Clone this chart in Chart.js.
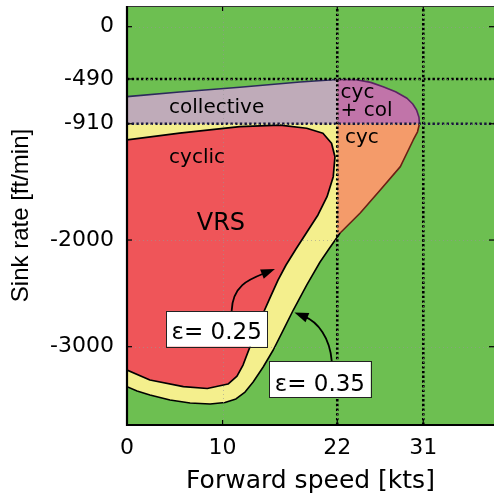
<!DOCTYPE html>
<html>
<head>
<meta charset="utf-8">
<title>VRS boundary</title>
<script src="https://cdn.jsdelivr.net/npm/chart.js@4.4.1/dist/chart.umd.min.js"></script>
<style>
  html, body { margin: 0; padding: 0; background: #fff; overflow: hidden; }
  canvas { display: block; }
</style>
</head>
<body>
<canvas id="vrs" width="494" height="498"></canvas>
<script>
// ε = 0.35 envelope: forward speed [kts] and sink rate [ft/min], clockwise from the top-left
const outerSpeed = [0, 5.5, 11.8, 18.1, 22, 24, 25.5, 26.8, 28.1, 29.3, 29.9, 30.3, 30.55, 30.6, 30.4, 29.95,
  28.6, 26.5, 24.4, 22.3, 21.2, 20.2, 18.8, 17.4, 16.35, 15.3, 14.25, 13.2, 12.35, 11.4, 10.25, 8.7, 6.6, 4.5, 2.4, 1.05, 0];
const outerSink = [-656, -612, -568, -518, -495, -497, -522, -562, -610, -671, -725, -781, -850, -910, -985, -1062,
  -1312, -1531, -1747, -1934, -2075, -2206, -2422, -2656, -2844, -3031, -3190, -3331, -3425, -3490, -3523, -3537, -3528, -3500, -3453, -3415, -3375];

// ε = 0.25 VRS core
const innerSpeed = [0, 5.5, 11.8, 16.0, 18.8, 20.5, 21.4, 21.76, 21.58, 20.93, 19.98, 18.83, 17.68, 16.64, 15.8,
  14.96, 14.12, 13.39, 12.66, 12.14, 11.51, 10.57, 8.4, 5.9, 2.4, 0];
const innerSink = [-1062, -997, -936, -922, -952, -999, -1093, -1219, -1406, -1594, -1765, -1925, -2084, -2234, -2375,
  -2543, -2712, -2881, -3050, -3172, -3275, -3350, -3392, -3375, -3312, -3218];

// Marked limits: collective/cyclic split speed, highest speed; sink onset, collective/cyclic split sink
const speedMarks = [22, 31];
const sinkMarks = [-490, -910];

// Axes
const xTicks = [0, 10, 22, 31];
const xTickLabels = ['0', '10', '22', '31'];
const yTicks = [0, -490, -910, -2000, -3000];
const yTickLabels = ['0', '-490', '-910', '-2000', '-3000'];
const xRange = [0, 38.4];
const yRange = [-3734, 194];

const FONT = "'DejaVu Sans', Verdana, sans-serif";
const FONT_V = "'Liberation Sans', Arial, Helvetica, sans-serif";

const COLORS = {
  safe: '#6dbf51',
  vrs: '#ef5559',
  margin: '#f4ef8d',
  collective: '#bfabb9',
  both: '#c174a9',
  cyclic: '#f49b6a'
};

// Region names, placed by left edge / baseline in data units
const regionLabels = [
  { text: 'collective', x: 4.4, y: -809, size: 20 },
  { text: 'cyc', x: 22.35, y: -664, size: 20 },
  { text: '+ col', x: 22.35, y: -837, size: 20 },
  { text: 'cyc', x: 22.8, y: -1090, size: 20 },
  { text: 'cyclic', x: 4.4, y: -1281, size: 20 },
  { text: 'VRS', x: 7.3, y: -1906, size: 24 }
];

// Contour call-outs: box [x1, x2, yTop, yBottom], text baseline, curved leader [start, c1, c2, tip]
const callouts = [
  { text: 'ε= 0.25', box: [4.08, 14.68, -2665, -3000], baseline: -2931,
    leader: [[10.95, -2665], [11.04, -2421], [12.87, -2365], [15.48, -2272]] },
  { text: 'ε= 0.35', box: [14.86, 25.5, -3134, -3474], baseline: -3412,
    leader: [[21.42, -3134], [21.24, -2918], [19.98, -2768], [17.52, -2679]] }
];

function toPoints(xs, ys) {
  return xs.map((x, i) => ({ x, y: ys[i] }));
}

// Keep the part of a polygon on one side of an axis-aligned line (Sutherland–Hodgman)
function clipHalf(pts, axis, limit, keepAbove) {
  const out = [];
  const inside = p => keepAbove ? p[axis] >= limit : p[axis] <= limit;
  for (let i = 0; i < pts.length; i++) {
    const a = pts[i];
    const b = pts[(i + 1) % pts.length];
    const ia = inside(a), ib = inside(b);
    if (ia) out.push(a);
    if (ia !== ib) {
      const t = (limit - a[axis]) / (b[axis] - a[axis]);
      out.push({ x: a.x + t * (b.x - a.x), y: a.y + t * (b.y - a.y) });
    }
  }
  return out;
}

const closeRing = pts => pts.concat([pts[0]]);

const outer = toPoints(outerSpeed, outerSink);
const inner = toPoints(innerSpeed, innerSink);
const splitSpeed = speedMarks[0];
const splitSink = sinkMarks[1];

const collectiveZone = clipHalf(clipHalf(outer, 'x', splitSpeed, false), 'y', splitSink, true);
const bothZone = clipHalf(clipHalf(outer, 'x', splitSpeed, true), 'y', splitSink, true);
const cyclicZone = clipHalf(clipHalf(outer, 'x', splitSpeed, true), 'y', splitSink, false);

const area = (label, pts, color, order) => ({
  label, data: closeRing(pts), order,
  fill: 'shape', backgroundColor: color,
  borderWidth: 0, borderColor: color,
  pointRadius: 0, pointHoverRadius: 0, tension: 0
});

const refLine = (pts, color) => ({
  data: pts, order: 1, fill: false,
  borderColor: color, borderWidth: 2.6, borderDash: [2.4, 2.3], borderCapStyle: 'butt',
  pointRadius: 0, pointHoverRadius: 0, tension: 0
});

const edgeColor = ctx => {
  const a = ctx.p0.parsed, b = ctx.p1.parsed;
  if (a.x === 0 && b.x === 0) return '#000';
  if (a.y >= splitSink - 1 && b.y >= splitSink - 1) {
    return (a.x <= splitSpeed && b.x <= splitSpeed) ? '#2c2a5c' : '#5a2363';
  }
  if (a.x >= splitSpeed && b.x >= splitSpeed) return '#6a1f14';
  return '#000';
};

const datasets = [
  ...sinkMarks.map((v, i) => refLine([{ x: xRange[0], y: v }, { x: xRange[1], y: v }], i === 1 ? '#17163a' : '#000')),
  ...speedMarks.map(v => refLine([{ x: v, y: yRange[0] }, { x: v, y: yRange[1] }], '#000')),
  {
    label: 'ε = 0.25', data: closeRing(inner), order: 3,
    fill: 'shape', backgroundColor: COLORS.vrs,
    borderColor: '#000', borderWidth: 1.7, borderJoinStyle: 'round',
    pointRadius: 0, pointHoverRadius: 0, tension: 0
  },
  {
    label: 'ε = 0.35 edge', data: closeRing(outer), order: 4, fill: false,
    borderColor: '#000', borderWidth: 1.6, borderJoinStyle: 'round',
    segment: { borderColor: edgeColor },
    pointRadius: 0, pointHoverRadius: 0, tension: 0
  },
  area('cyc', cyclicZone, COLORS.cyclic, 5),
  area('cyc + col', bothZone, COLORS.both, 6),
  area('collective', collectiveZone, COLORS.collective, 7),
  area('ε = 0.35', outer, COLORS.margin, 8)
];

// Plot background
const backdrop = {
  id: 'backdrop',
  beforeDatasetsDraw(chart) {
    const { ctx, chartArea: a } = chart;
    ctx.save();
    ctx.fillStyle = COLORS.safe;
    ctx.fillRect(a.left, a.top, a.right - a.left, a.bottom - a.top);
    ctx.restore();
  }
};

// Light grid, inward ticks, frame, labels and call-outs
const overlay = {
  id: 'overlay',
  afterDatasetsDraw(chart) {
    const { ctx, chartArea: a, scales: { x, y } } = chart;
    const px = v => x.getPixelForValue(v);
    const py = v => y.getPixelForValue(v);
    const seg = (x1, y1, x2, y2) => { ctx.beginPath(); ctx.moveTo(x1, y1); ctx.lineTo(x2, y2); ctx.stroke(); };

    ctx.save();
    ctx.beginPath();
    ctx.rect(a.left, a.top, a.right - a.left, a.bottom - a.top);
    ctx.clip();
    ctx.strokeStyle = 'rgba(150,150,150,0.6)';
    ctx.lineWidth = 1;
    ctx.setLineDash([1, 3]);
    xTicks.forEach(v => { const p = Math.round(px(v)) + 0.5; seg(p, a.top, p, a.bottom); });
    yTicks.forEach(v => { const p = Math.round(py(v)) + 0.5; seg(a.left, p, a.right, p); });
    ctx.restore();

    ctx.save();
    ctx.strokeStyle = '#000';
    ctx.lineWidth = 1.2;
    xTicks.forEach(v => {
      const p = px(v);
      seg(p, a.bottom, p, a.bottom - 5);
      seg(p, a.top, p, a.top + 5);
    });
    yTicks.forEach(v => {
      const p = py(v);
      seg(a.left, p, a.left + 5, p);
      seg(a.right, p, a.right - 5, p);
    });
    ctx.strokeStyle = '#333';
    ctx.lineWidth = 1.2;
    seg(a.left, a.top + 0.5, a.right, a.top + 0.5);
    ctx.strokeStyle = '#000';
    ctx.lineWidth = 2.2;
    seg(a.left, a.top, a.left, a.bottom + 1);
    seg(a.left - 1, a.bottom, a.right, a.bottom);
    ctx.restore();
  },
  afterDraw(chart) {
    const { ctx, scales: { x, y } } = chart;
    const px = v => x.getPixelForValue(v);
    const py = v => y.getPixelForValue(v);
    ctx.save();
    ctx.fillStyle = '#000';
    ctx.textBaseline = 'alphabetic';
    ctx.textAlign = 'left';
    regionLabels.forEach(l => {
      ctx.font = `${l.size}px ${FONT}`;
      ctx.fillText(l.text, px(l.x), py(l.y));
    });

    callouts.forEach(c => {
      const [x1, x2, yt, yb] = c.box;
      const L = px(x1), R = px(x2), T = py(yt), B = py(yb);
      // leader with arrow head
      const p = c.leader.map(([u, v]) => ({ x: px(u), y: py(v) }));
      const dx = p[3].x - p[2].x, dy = p[3].y - p[2].y;
      const len = Math.hypot(dx, dy), ux = dx / len, uy = dy / len;
      const head = 14, half = 5;
      const bx = p[3].x - ux * head, by = p[3].y - uy * head;
      ctx.strokeStyle = '#000';
      ctx.lineWidth = 1.8;
      ctx.beginPath();
      ctx.moveTo(p[0].x, p[0].y);
      ctx.bezierCurveTo(p[1].x, p[1].y, p[2].x, p[2].y, bx + ux * 3, by + uy * 3);
      ctx.stroke();
      ctx.beginPath();
      ctx.moveTo(p[3].x, p[3].y);
      ctx.lineTo(bx - uy * half, by + ux * half);
      ctx.lineTo(bx + uy * half, by - ux * half);
      ctx.closePath();
      ctx.fill();
      // box and text
      ctx.fillStyle = '#fff';
      ctx.fillRect(L, T, R - L, B - T);
      ctx.strokeStyle = '#222';
      ctx.lineWidth = 1;
      ctx.strokeRect(Math.round(L) + 0.5, Math.round(T) + 0.5, Math.round(R - L), Math.round(B - T));
      ctx.fillStyle = '#000';
      ctx.font = `23px ${FONT}`;
      ctx.textAlign = 'center';
      ctx.fillText(c.text, (L + R) / 2, py(c.baseline));
      ctx.textAlign = 'left';
    });
    ctx.restore();
  }
};

new Chart(document.getElementById('vrs'), {
  type: 'line',
  data: { datasets },
  options: {
    responsive: false,
    animation: false,
    devicePixelRatio: 1,
    events: [],
    layout: { padding: { top: 6, left: 0, right: 0, bottom: 0 } },
    plugins: { legend: { display: false }, tooltip: { enabled: false } },
    scales: {
      x: {
        type: 'linear',
        min: xRange[0],
        max: xRange[1],
        afterBuildTicks: s => { s.ticks = xTicks.map(v => ({ value: v })); },
        afterFit: s => { s.height = 73; s.paddingLeft = 0; s.paddingRight = 0; },
        grid: { display: false, drawTicks: false },
        border: { display: false },
        ticks: {
          autoSkip: false, maxRotation: 0, padding: 10, color: '#000',
          font: { family: FONT, size: 22 },
          callback: v => xTickLabels[xTicks.indexOf(v)]
        },
        title: {
          display: true, text: 'Forward speed [kts]', color: '#000',
          font: { family: FONT, size: 25 }, padding: { top: 0, bottom: 2 }
        }
      },
      y: {
        type: 'linear',
        min: yRange[0],
        max: yRange[1],
        afterBuildTicks: s => { s.ticks = yTicks.map(v => ({ value: v })); },
        afterFit: s => { s.width = 127; s.paddingTop = 0; s.paddingBottom = 0; },
        grid: { display: false, drawTicks: false },
        border: { display: false },
        ticks: {
          autoSkip: false, padding: 13, color: '#000',
          font: { family: FONT, size: 22 },
          callback: v => yTickLabels[yTicks.indexOf(v)]
        },
        title: {
          display: true, text: 'Sink rate [ft/min]', color: '#000',
          font: { family: FONT_V, size: 24 }, padding: { top: 6.5, bottom: 0 }
        }
      }
    }
  },
  plugins: [backdrop, overlay]
});
</script>
</body>
</html>
